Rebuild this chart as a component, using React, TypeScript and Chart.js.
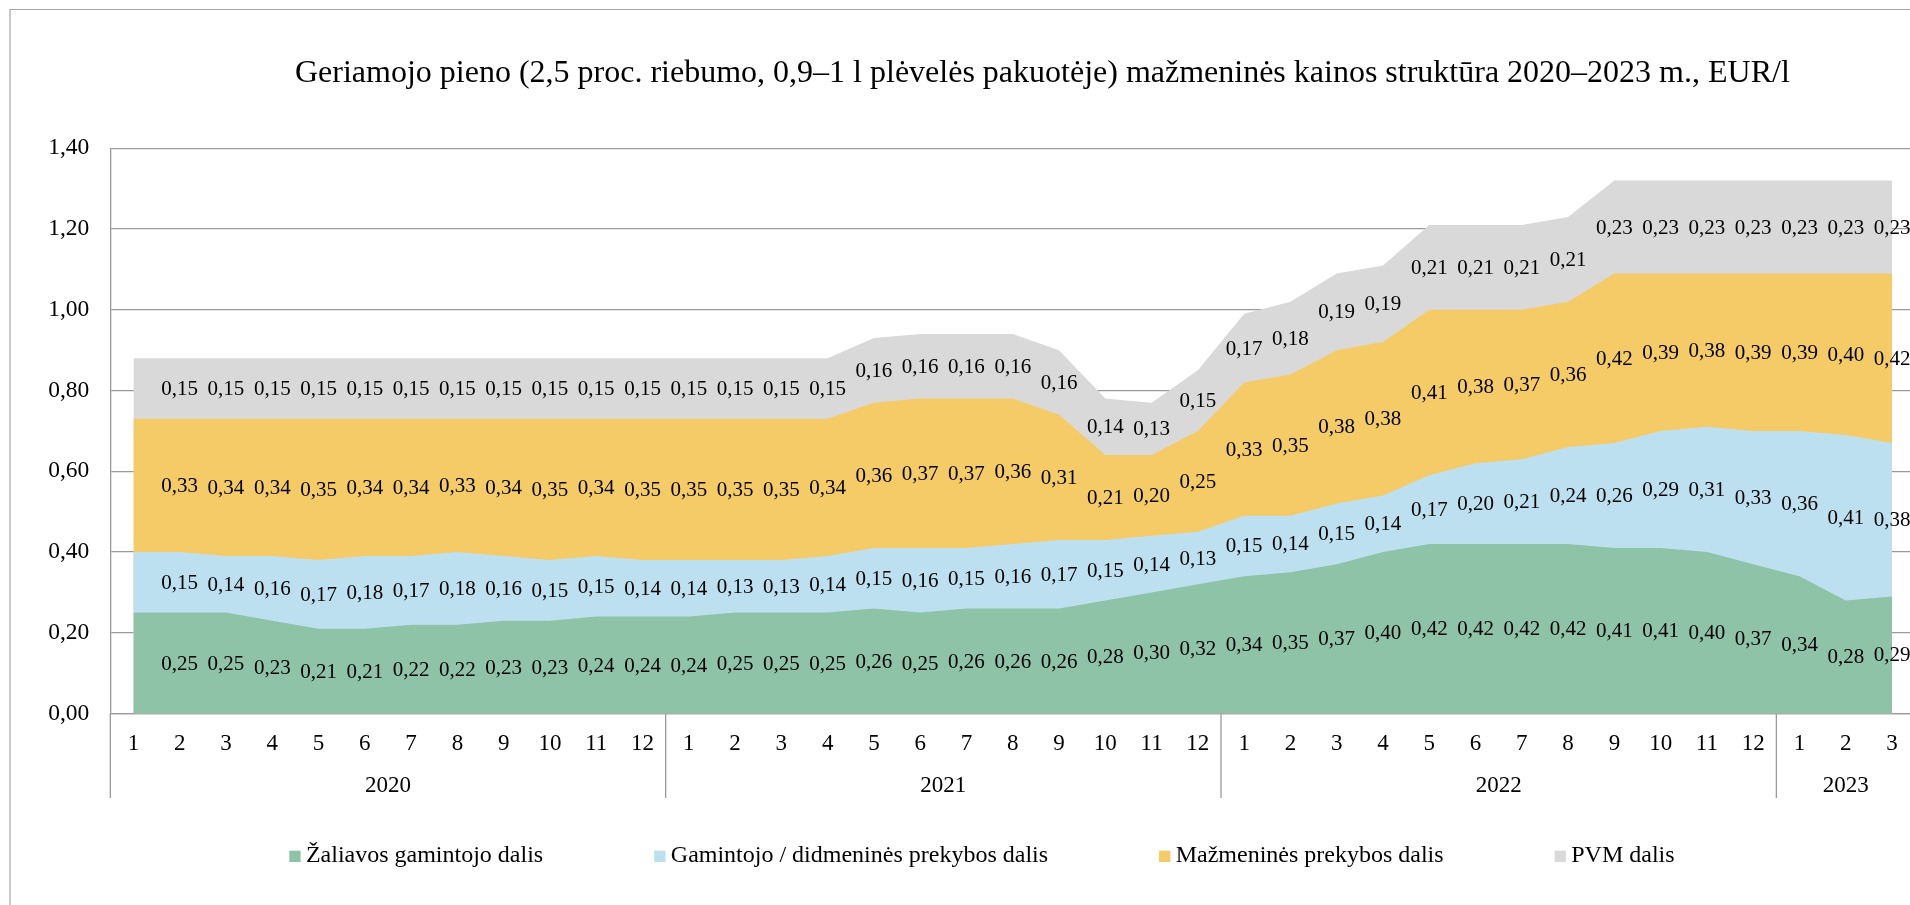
import React, { useEffect, useRef } from "react";
import { Chart, registerables } from "chart.js";

Chart.register(...registerables);

// ---------- data ----------
const years = ["2020", "2021", "2022", "2023"];
const monthsPerYear = [12, 12, 12, 3];
const monthLabels = ["1", "2", "3", "4", "5", "6", "7", "8", "9", "10", "11", "12"];

const seriesNames = [
  "Žaliavos gamintojo dalis",
  "Gamintojo / didmeninės prekybos dalis",
  "Mažmeninės prekybos dalis",
  "PVM dalis",
];
const seriesColors = ["#8fc3a7", "#bde0f0", "#f4cb66", "#d9d9d9"];

const rawMaterial = [
  0.25, 0.25, 0.25, 0.23, 0.21, 0.21, 0.22, 0.22, 0.23, 0.23, 0.24, 0.24,
  0.24, 0.25, 0.25, 0.25, 0.26, 0.25, 0.26, 0.26, 0.26, 0.28, 0.30, 0.32,
  0.34, 0.35, 0.37, 0.40, 0.42, 0.42, 0.42, 0.42, 0.41, 0.41, 0.40, 0.37,
  0.34, 0.28, 0.29,
];
const wholesale = [
  0.15, 0.15, 0.14, 0.16, 0.17, 0.18, 0.17, 0.18, 0.16, 0.15, 0.15, 0.14,
  0.14, 0.13, 0.13, 0.14, 0.15, 0.16, 0.15, 0.16, 0.17, 0.15, 0.14, 0.13,
  0.15, 0.14, 0.15, 0.14, 0.17, 0.20, 0.21, 0.24, 0.26, 0.29, 0.31, 0.33,
  0.36, 0.41, 0.38,
];
const retail = [
  0.33, 0.33, 0.34, 0.34, 0.35, 0.34, 0.34, 0.33, 0.34, 0.35, 0.34, 0.35,
  0.35, 0.35, 0.35, 0.34, 0.36, 0.37, 0.37, 0.36, 0.31, 0.21, 0.20, 0.25,
  0.33, 0.35, 0.38, 0.38, 0.41, 0.38, 0.37, 0.36, 0.42, 0.39, 0.38, 0.39,
  0.39, 0.40, 0.42,
];
const vat = [
  0.15, 0.15, 0.15, 0.15, 0.15, 0.15, 0.15, 0.15, 0.15, 0.15, 0.15, 0.15,
  0.15, 0.15, 0.15, 0.15, 0.16, 0.16, 0.16, 0.16, 0.16, 0.14, 0.13, 0.15,
  0.17, 0.18, 0.19, 0.19, 0.21, 0.21, 0.21, 0.21, 0.23, 0.23, 0.23, 0.23,
  0.23, 0.23, 0.23,
];

const titleText =
  "Geriamojo pieno (2,5 proc. riebumo, 0,9–1 l plėvelės pakuotėje) mažmeninės kainos struktūra 2020–2023 m., EUR/l";

const FONT = "'Liberation Serif', 'Times New Roman', serif";
const LINE = "#9a9a9a";

const fmt = (v: number) => v.toFixed(2).replace(".", ",");

export default function App() {
  const ref = useRef<HTMLCanvasElement | null>(null);

  useEffect(() => {
    if (!ref.current) return;
    const labels: string[] = [];
    years.forEach((_, yi) => {
      for (let m = 0; m < monthsPerYear[yi]; m++) labels.push(monthLabels[m]);
    });
    const series = [rawMaterial, wholesale, retail, vat];

    const decorPlugin = {
      id: "decor",
      afterDatasetsDraw(chart: any) {
        const ctx = chart.ctx;
        const xs = chart.scales.x;
        const ys = chart.scales.y;
        ctx.save();
        ctx.font = `21px ${FONT}`;
        ctx.fillStyle = "#000";
        ctx.textAlign = "center";
        ctx.textBaseline = "middle";
        for (let i = 1; i < labels.length; i++) {
          let base = 0;
          series.forEach((s) => {
            const v = s[i];
            const y = ys.getPixelForValue(base + v / 2);
            ctx.fillText(fmt(v), xs.getPixelForValue(i), y + 1);
            base += v;
          });
        }
        ctx.restore();
      },
      afterDraw(chart: any) {
        const ctx = chart.ctx;
        const xs = chart.scales.x;
        const area = chart.chartArea;
        ctx.save();
        // outer frame
        ctx.strokeStyle = "#a6a6a6";
        ctx.lineWidth = 1.2;
        ctx.beginPath();
        ctx.moveTo(10, 2000);
        ctx.lineTo(10, 9.5);
        ctx.lineTo(3000, 9.5);
        ctx.stroke();

        // title
        ctx.fillStyle = "#000";
        ctx.font = `32px ${FONT}`;
        ctx.textAlign = "left";
        ctx.textBaseline = "alphabetic";
        ctx.fillText(titleText, 295, 82);

        // axis extensions and year separators
        const bottomLine = 798;
        ctx.strokeStyle = LINE;
        ctx.lineWidth = 1.3;
        ctx.beginPath();
        ctx.moveTo(area.left, area.bottom);
        ctx.lineTo(area.left, bottomLine);
        let idx = 0;
        const half = (xs.getPixelForValue(1) - xs.getPixelForValue(0)) / 2;
        const bounds: number[] = [area.left];
        years.forEach((_, yi) => {
          idx += monthsPerYear[yi];
          const bx = xs.getPixelForValue(idx - 1) + half;
          bounds.push(bx);
          if (yi < years.length - 1) {
            ctx.moveTo(bx, area.bottom);
            ctx.lineTo(bx, bottomLine);
          }
        });
        ctx.stroke();

        // month labels
        ctx.font = `23px ${FONT}`;
        ctx.textAlign = "center";
        labels.forEach((l, i) => {
          ctx.fillText(l, xs.getPixelForValue(i), 750);
        });
        // year labels
        years.forEach((yr, yi) => {
          ctx.fillText(yr, (bounds[yi] + bounds[yi + 1]) / 2, 791.7);
        });

        // legend
        ctx.font = `24px ${FONT}`;
        ctx.textAlign = "left";
        let lx = 289.3;
        const box = 11.3;
        seriesNames.forEach((name, si) => {
          ctx.fillStyle = seriesColors[si];
          ctx.fillRect(lx, 850.7, box, box);
          ctx.fillStyle = "#000";
          const tx = lx + box + 5.3;
          ctx.fillText(name, tx, 862.3);
          lx = tx + ctx.measureText(name).width + 111;
        });
        ctx.restore();
      },
    };

    const chart = new Chart(ref.current, {
      type: "line",
      data: {
        labels,
        datasets: series.map((s, si) => ({
          label: seriesNames[si],
          data: s,
          backgroundColor: seriesColors[si],
          borderWidth: 0,
          pointRadius: 0,
          pointHoverRadius: 0,
          tension: 0,
          fill: "origin",
        })),
      },
      options: {
        responsive: false,
        animation: false,
        events: [],
        layout: { padding: { left: 0, top: 148.3, right: 1940 - 1915.2, bottom: 905 - 713.5 } },
        plugins: {
          legend: { display: false },
          title: { display: false },
          tooltip: { enabled: false },
        },
        scales: {
          x: {
            type: "category",
            offset: true,
            grid: { display: false, drawTicks: false },
            border: { display: true, color: LINE, width: 1.3 },
            ticks: { display: false },
            afterFit(scale: any) {
              scale.height = 0;
            },
          },
          y: {
            stacked: true,
            min: 0,
            max: 1.4,
            ticks: {
              stepSize: 0.2,
              padding: 21,
              color: "#000",
              font: { family: FONT, size: 23.5 },
              callback: (v: any) => fmt(Number(v)),
            },
            grid: { color: LINE, lineWidth: 1.3, drawTicks: false },
            border: { display: true, color: LINE, width: 1.3 },
            afterFit(scale: any) {
              scale.width = 110.3;
            },
          },
        },
      },
      plugins: [decorPlugin],
    });
    return () => chart.destroy();
  }, []);

  return (
    <div
      style={{
        position: "fixed",
        left: 0,
        top: 0,
        width: 1910,
        height: 905,
        overflow: "hidden",
        background: "#fff",
      }}
    >
      <canvas ref={ref} width={1940} height={905} style={{ width: 1940, height: 905, display: "block" }} />
    </div>
  );
}
